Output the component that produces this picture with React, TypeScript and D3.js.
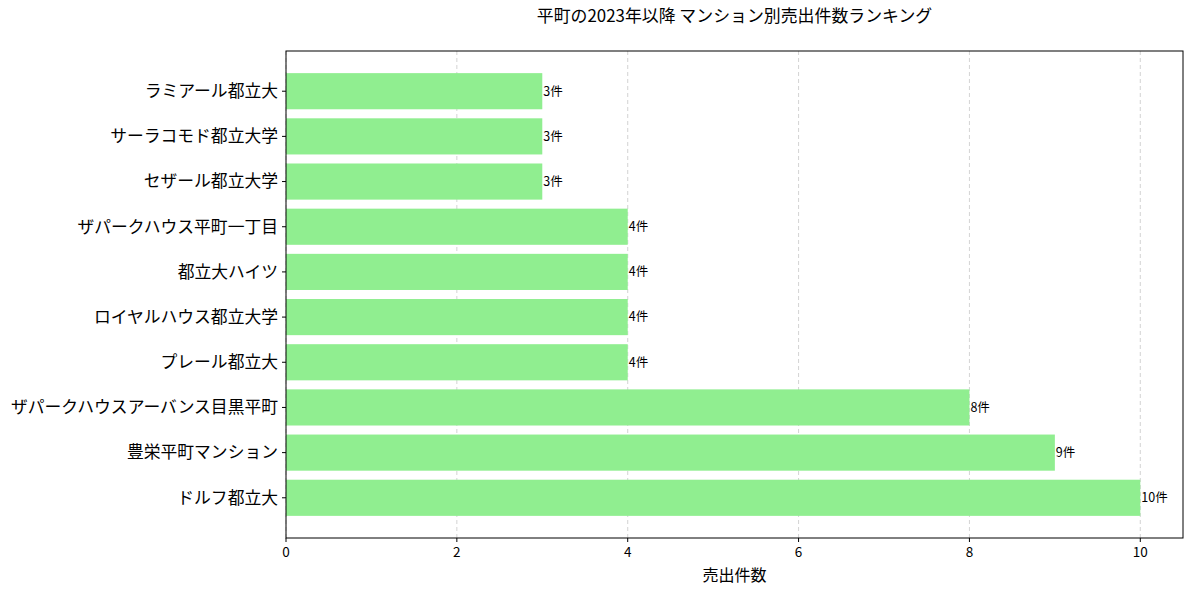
import React, { useEffect, useRef } from "react";
import * as d3 from "d3";

// bottom to top order (index 0 is drawn at the bottom)
const names = [
  "ドルフ都立大",
  "豊栄平町マンション",
  "ザパークハウスアーバンス目黒平町",
  "プレール都立大",
  "ロイヤルハウス都立大学",
  "都立大ハイツ",
  "ザパークハウス平町一丁目",
  "セザール都立大学",
  "サーラコモド都立大学",
  "ラミアール都立大",
];
const counts = [10, 9, 8, 4, 4, 4, 4, 3, 3, 3];
const xTicks = [0, 2, 4, 6, 8, 10];

const W = 1193;
const H = 593;
const FONT = "'Noto Sans CJK JP', 'Noto Sans', sans-serif";

const App = () => {
  const ref = useRef<SVGSVGElement>(null);

  useEffect(() => {
    const svg = d3.select(ref.current);
    svg.selectAll("*").remove();

    const left = 286, right = 1183, top = 51, bottom = 538;

    const x = d3.scaleLinear().domain([0, 10.5]).range([left, right]);
    const y = d3.scaleLinear().domain([-0.89, 9.89]).range([bottom, top]);
    const bh = y(0) - y(0.8);

    // grid
    svg.append("g")
      .selectAll("line")
      .data(xTicks)
      .join("line")
      .attr("x1", (d) => x(d))
      .attr("x2", (d) => x(d))
      .attr("y1", top)
      .attr("y2", bottom)
      .attr("stroke", "#c8c8c8")
      .attr("stroke-width", 0.8)
      .attr("stroke-dasharray", "4,3");

    // bars
    svg.append("g")
      .selectAll("rect")
      .data(counts)
      .join("rect")
      .attr("x", x(0))
      .attr("y", (d, i) => y(i + 0.4))
      .attr("width", (d) => x(d) - x(0))
      .attr("height", bh)
      .attr("fill", "#90ee90");

    // bar labels
    svg.append("g")
      .selectAll("text")
      .data(counts)
      .join("text")
      .attr("x", (d) => x(d) + 1)
      .attr("y", (d, i) => y(i))
      .attr("dy", "0.35em")
      .attr("font-family", FONT)
      .attr("font-size", 12.5)
      .attr("fill", "#000")
      .text((d) => `${d}件`);

    // frame
    svg.append("rect")
      .attr("x", left)
      .attr("y", top)
      .attr("width", right - left)
      .attr("height", bottom - top)
      .attr("fill", "none")
      .attr("stroke", "#000")
      .attr("stroke-width", 1);

    // x axis
    const xa = svg.append("g");
    xa.selectAll("line")
      .data(xTicks)
      .join("line")
      .attr("x1", (d) => x(d))
      .attr("x2", (d) => x(d))
      .attr("y1", bottom)
      .attr("y2", bottom + 4)
      .attr("stroke", "#000");
    xa.selectAll("text")
      .data(xTicks)
      .join("text")
      .attr("x", (d) => x(d))
      .attr("y", bottom + 19)
      .attr("text-anchor", "middle")
      .attr("font-family", FONT)
      .attr("font-size", 13.5)
      .text((d) => d);

    // y axis
    const ya = svg.append("g");
    ya.selectAll("line")
      .data(names)
      .join("line")
      .attr("x1", left - 4)
      .attr("x2", left)
      .attr("y1", (d, i) => y(i))
      .attr("y2", (d, i) => y(i))
      .attr("stroke", "#000");
    ya.selectAll("text")
      .data(names)
      .join("text")
      .attr("x", left - 8)
      .attr("y", (d, i) => y(i))
      .attr("dy", "0.35em")
      .attr("text-anchor", "end")
      .attr("font-family", FONT)
      .attr("font-size", 16.8)
      .text((d) => d);

    svg.append("text")
      .attr("x", (left + right) / 2)
      .attr("y", 581)
      .attr("text-anchor", "middle")
      .attr("font-family", FONT)
      .attr("font-size", 16)
      .text("売出件数");

    svg.append("text")
      .attr("x", (left + right) / 2)
      .attr("y", 22)
      .attr("text-anchor", "middle")
      .attr("font-family", FONT)
      .attr("font-size", 16.9)
      .text("平町の2023年以降 マンション別売出件数ランキング");
  });

  return (
    <svg
      ref={ref}
      width={W}
      height={H}
      style={{ display: "block", position: "absolute", left: 0, top: 0, background: "#fff" }}
    />
  );
};

export default App;
